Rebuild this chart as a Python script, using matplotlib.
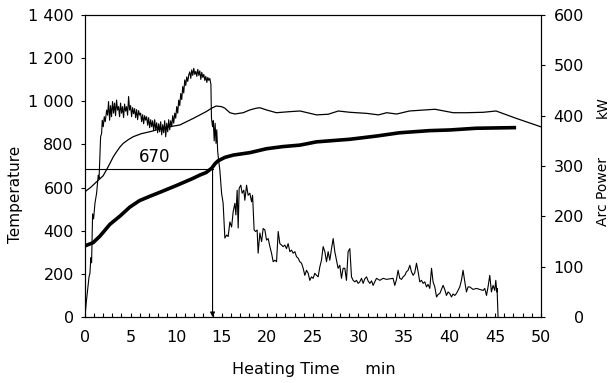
import numpy as np
import matplotlib
matplotlib.use("Agg")
import matplotlib.pyplot as plt
from matplotlib.ticker import FuncFormatter, MultipleLocator

plt.rcParams.update({
    "font.family": "DejaVu Sans",
    "font.size": 11,
    "axes.linewidth": 0.8,
})

# ----------------------------------------------------------------------
# Data
# ----------------------------------------------------------------------
# thin curve (temperature, left axis)
thin_t = [0, 0.6, 1.28, 2.0, 2.4, 2.74, 3.1, 3.47, 3.84, 4.2, 4.75, 5.3,
          6.2, 7.13, 8.96, 10.4, 11.9, 13.3, 13.9, 14.4, 15.0, 15.35,
          15.9, 16.45, 17.36, 18.1, 18.8, 19.2, 19.9, 21.0, 22.5, 23.6,
          25.4, 26.7, 27.8, 29.05, 30.9, 32.2, 33.1, 34.2, 35.6, 38.4,
          40.4, 41.85, 43.7, 45.1, 47.3, 50.0]
thin_T = [581, 600, 627, 655, 685, 712, 742, 766, 788, 805, 822, 836,
          850, 859, 880, 890, 921, 952, 968, 978, 975, 968,
          947, 941, 947, 960, 968, 970, 960, 947, 952, 955,
          937, 940, 955, 949, 944, 937, 947, 941, 955, 963,
          947, 947, 949, 955, 921, 882]

# thick curve (temperature, left axis)
thick_t = [0, 0.9, 1.64, 2.74, 3.84, 4.93, 6.0, 7.13, 8.2, 10.05, 11.7,
           12.6, 13.3, 13.9, 14.3, 14.6, 15.35, 16.3, 18.1, 19.9, 21.7,
           23.6, 25.4, 29.06, 32.0, 34.5, 37.8, 40.0, 42.9, 47.3]
thick_T = [330, 345, 375, 430, 468, 510, 540, 560, 578, 610, 640,
           658, 670, 690, 712, 724, 740, 751, 762, 780, 790,
           797, 812, 824, 839, 854, 864, 867, 875, 878]

# arc power (kW, right axis)
arc_t = [0.00, 0.15, 0.30, 0.45, 0.55, 0.65, 0.73, 0.84, 0.95, 1.10, 1.28,
         1.46, 1.55, 1.64, 1.72, 1.83, 1.90, 2.01, 2.12, 2.23, 2.38, 2.49,
         2.59, 2.71, 2.81, 2.92, 3.03, 3.14, 3.25, 3.36, 3.47, 3.58, 3.69,
         3.80, 3.91, 4.02, 4.13, 4.24, 4.35, 4.46, 4.57, 4.68, 4.79, 4.90,
         5.01, 5.12, 5.23, 5.34, 5.45, 5.56, 5.67, 5.78, 5.89, 6.00, 6.11,
         6.22, 6.33, 6.44, 6.55, 6.66, 6.77, 6.88, 6.99, 7.10, 7.21, 7.32,
         7.43, 7.54, 7.65, 7.76, 7.87, 7.98, 8.09, 8.20, 8.31, 8.42, 8.53,
         8.64, 8.75, 8.86, 8.97, 9.08, 9.19, 9.30, 9.41, 9.52, 9.63, 9.74,
         9.85, 9.96, 10.07, 10.18, 10.29, 10.40, 10.51, 10.62, 10.73, 10.84,
         10.95, 11.06, 11.17, 11.28, 11.39, 11.50, 11.61, 11.72, 11.83,
         11.94, 12.05, 12.16, 12.27, 12.38, 12.49, 12.60, 12.71, 12.82,
         12.93, 13.04, 13.15, 13.26, 13.37, 13.48, 13.59, 13.70, 13.82,
         13.88, 14.00, 14.08, 14.18, 14.28, 14.38, 14.46, 14.56, 14.66,
         14.80, 14.99, 15.16, 15.35, 15.54, 15.71, 15.90, 16.09, 16.26,
         16.45, 16.56, 16.70, 16.81, 16.92, 17.10, 17.25, 17.43, 17.54,
         17.73, 17.90, 18.09, 18.28, 18.39, 18.56, 18.72, 18.89, 19.00,
         19.19, 19.38, 19.55, 19.74, 19.92, 20.10, 20.29, 20.47, 20.65,
         20.83, 21.02, 21.20, 21.38, 21.57, 21.74, 21.93, 22.11, 22.29,
         22.48, 22.66, 22.84, 23.03, 23.21, 23.39, 23.57, 23.76, 23.94,
         24.12, 24.31, 24.49, 24.67, 24.85, 25.03, 25.22, 25.41, 25.58,
         25.77, 25.95, 26.13, 26.32, 26.50, 26.68, 26.86, 27.05, 27.23,
         27.41, 27.60, 27.77, 27.96, 28.14, 28.32, 28.51, 28.69, 28.87,
         29.06, 29.24, 29.42, 29.61, 29.79, 29.97, 30.15, 30.34, 30.52,
         30.70, 30.89, 31.06, 31.25, 31.44, 31.61, 31.80, 31.98, 32.16,
         32.35, 32.70, 33.08, 33.44, 33.80, 33.99, 34.18, 34.35, 34.54,
         34.73, 34.90, 35.09, 35.27, 35.45, 35.64, 35.82, 36.00, 36.18,
         36.37, 36.55, 36.73, 36.92, 37.10, 37.28, 37.47, 37.64, 37.83,
         38.02, 38.19, 38.38, 38.57, 38.74, 38.93, 39.11, 39.29, 39.47,
         39.66, 39.84, 40.02, 40.21, 40.38, 40.57, 40.75, 40.93, 41.12,
         41.30, 41.48, 41.67, 41.85, 42.03, 42.21, 42.58, 42.95, 43.31,
         43.68, 43.86, 44.05, 44.22, 44.41, 44.59, 44.77, 44.96, 45.07,
         45.18, 45.21, 45.32]
arc_kw = [0, 30, 55, 80, 87, 118, 108, 205, 195, 226, 246,
          282, 275, 318, 358, 365, 391, 378, 398, 388, 411, 401,
          428, 391, 420, 398, 428, 405, 425, 400, 431, 411, 418,
          398, 425, 405, 418, 396, 423, 409, 418, 401, 438, 411,
          420, 398, 416, 404, 414, 396, 412, 392, 410, 401, 405,
          388, 402, 384, 400, 391, 398, 381, 396, 376, 392, 378,
          390, 370, 392, 372, 386, 366, 384, 368, 388, 362, 382,
          366, 390, 358, 385, 368, 392, 372, 390, 378, 400, 385,
          405, 395, 418, 405, 431, 420, 444, 432, 458, 445,
          471, 460, 477, 468, 481, 487, 474, 491, 480,
          494, 482, 488, 478, 492, 480, 489, 472, 486,
          476, 482, 470, 478, 466, 476, 470, 474, 462,
          395, 378, 390, 350, 385, 345, 372, 330, 312,
          292, 246, 226, 157, 163, 160, 189, 179, 209,
          226, 203, 252, 177, 256, 262, 246, 252, 232,
          262, 242, 246, 229, 242, 173, 170, 173, 127,
          167, 150, 176, 173, 153, 156, 140, 127, 110,
          113, 110, 170, 146, 143, 140, 143, 136, 146,
          130, 133, 127, 130, 120, 117, 110, 107, 97,
          83, 93, 87, 73, 80, 77, 87, 83, 80,
          100, 113, 140, 130, 110, 130, 113, 136, 156,
          130, 113, 97, 103, 77, 97, 97, 73, 130,
          136, 80, 73, 70, 73, 67, 70, 77, 67,
          76, 80, 72, 67, 72, 63, 70, 77, 75,
          73, 77, 75, 76, 77, 63, 75, 93, 77,
          75, 80, 83, 90, 93, 103, 90, 83, 88,
          107, 90, 70, 73, 67, 70, 60, 65, 57,
          97, 70, 60, 40, 45, 47, 55, 63, 55,
          43, 50, 47, 40, 46, 43, 47, 53, 60,
          73, 93, 70, 50, 60, 60, 55, 57, 55,
          53, 57, 43, 60, 83, 50, 63, 53, 73,
          50, 57, 0]

REF_LABEL = "670"   # annotated reference temperature
REF_LEVEL = 687     # level at which the reference line is drawn
REF_TIME = 14       # time at which the reference is reached

# ----------------------------------------------------------------------
fig = plt.figure(figsize=(6.11, 3.83), dpi=100)
ax = fig.add_axes([0.139, 0.172, 0.746, 0.789])
ax2 = ax.twinx()

ax.plot(thin_t, thin_T, color="black", lw=0.9, zorder=3)
ax.plot(thick_t, thick_T, color="black", lw=2.6, zorder=3,
        solid_capstyle="butt")
ax2.plot(arc_t, arc_kw, color="black", lw=0.8, zorder=3)

# reference line and arrow
ax.plot([0, REF_TIME], [REF_LEVEL, REF_LEVEL], color="black", lw=0.8)
ax.annotate("", xy=(REF_TIME, 0), xytext=(REF_TIME, REF_LEVEL),
            arrowprops=dict(arrowstyle="-|>", color="black", lw=0.8,
                            mutation_scale=7, shrinkA=0, shrinkB=0))
ax.text(7.6, 740, REF_LABEL, ha="center", va="center", fontsize=12)

# axes
ax.set_xlim(0, 50)
ax.set_ylim(0, 1400)
ax2.set_ylim(0, 600)
ax.xaxis.set_major_locator(MultipleLocator(5))
ax.xaxis.set_minor_locator(MultipleLocator(1))
ax.yaxis.set_major_locator(MultipleLocator(200))
ax2.yaxis.set_major_locator(MultipleLocator(100))
ax.yaxis.set_major_formatter(FuncFormatter(lambda v, p: f"{int(v):,}".replace(",", " ")))

ax.tick_params(axis="x", which="both", direction="in", length=3, width=0.8,
               pad=9, labelsize=11.5, top=False)
ax.tick_params(axis="y", direction="out", length=3, width=0.8, pad=5,
               labelsize=11.5)
ax2.tick_params(axis="y", direction="out", length=3, width=0.8, pad=28,
                labelsize=11.5)
for lbl in ax2.get_yticklabels():
    lbl.set_horizontalalignment("right")

for a in (ax, ax2):
    for s in a.spines.values():
        s.set_linewidth(0.8)

fig.text(0.514, 0.035, "Heating Time     min", ha="center", va="center",
         fontsize=11.5)
fig.text(0.025, 0.493, "Temperature", rotation=90, ha="center",
         va="center", fontsize=11)
fig.text(0.987, 0.50, "Arc Power", rotation=90, ha="center", va="center",
         fontsize=10)
fig.text(0.987, 0.72, "kW", rotation=90, ha="center", va="center",
         fontsize=10)

fig.savefig("out.png", dpi=100, facecolor="white")
